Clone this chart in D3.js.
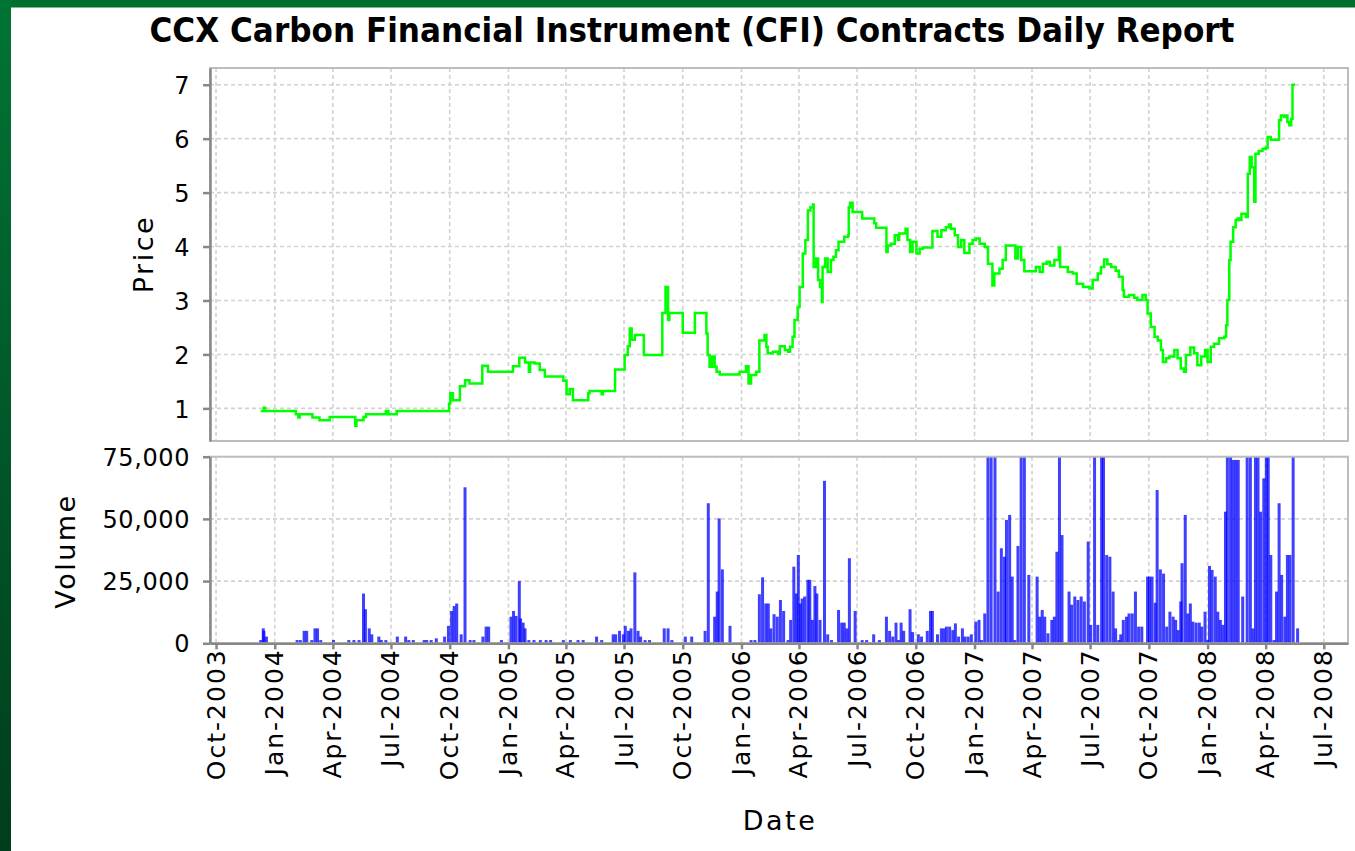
<!DOCTYPE html>
<html>
<head>
<meta charset="utf-8">
<script src="https://cdn.jsdelivr.net/npm/d3@7"></script>
<style>
  body { margin: 0; background: #fff; }
  svg text { font-family: "DejaVu Sans", sans-serif; fill: #000; }
</style>
</head>
<body>
<div id="chart"></div>
<script>
// price series (date the level starts, price)
const priceDates = [
  "2003-12-10","2003-12-15","2003-12-17","2004-02-03","2004-02-07","2004-02-09","2004-02-29","2004-03-11",
  "2004-03-27","2004-05-06","2004-05-08","2004-05-19","2004-05-23","2004-06-23","2004-06-27","2004-07-10",
  "2004-09-30","2004-10-02","2004-10-06","2004-10-17","2004-10-25","2004-11-01","2004-11-21","2004-11-30",
  "2005-01-08","2005-01-18","2005-01-27","2005-02-02","2005-02-04","2005-02-11","2005-02-19","2005-02-27",
  "2005-03-28","2005-04-02","2005-04-07","2005-04-12","2005-05-06","2005-05-08","2005-05-27","2005-05-29",
  "2005-06-17","2005-07-02","2005-07-07","2005-07-10","2005-07-13","2005-07-18","2005-08-01","2005-08-30",
  "2005-09-04","2005-09-08","2005-09-10","2005-10-01","2005-10-20","2005-11-07","2005-11-09","2005-11-12",
  "2005-11-16","2005-11-20","2005-11-23","2005-11-28","2005-12-29","2006-01-08","2006-01-12","2006-01-16",
  "2006-01-24","2006-01-29","2006-02-06","2006-02-09","2006-02-11","2006-02-19","2006-02-27","2006-03-02",
  "2006-03-10","2006-03-15","2006-03-18","2006-03-22","2006-03-25","2006-03-30","2006-04-02","2006-04-07",
  "2006-04-11","2006-04-15","2006-04-19","2006-04-23","2006-04-24","2006-04-28","2006-05-01","2006-05-04",
  "2006-05-07","2006-05-08","2006-05-12","2006-05-16","2006-05-21","2006-05-25","2006-05-29","2006-06-02",
  "2006-06-11","2006-06-17","2006-06-18","2006-06-20","2006-06-24","2006-07-09","2006-07-28","2006-07-31",
  "2006-08-16","2006-08-18","2006-08-23","2006-08-29","2006-09-03","2006-09-05","2006-09-15","2006-09-18",
  "2006-09-22","2006-09-26","2006-10-02","2006-10-07","2006-10-12","2006-10-27","2006-11-04","2006-11-10",
  "2006-11-17","2006-11-22","2006-11-25","2006-12-01","2006-12-06","2006-12-11","2006-12-16","2006-12-24",
  "2006-12-29","2007-01-03","2007-01-09","2007-01-17","2007-01-22","2007-01-29","2007-02-01","2007-02-09",
  "2007-02-14","2007-02-19","2007-03-06","2007-03-10","2007-03-15","2007-03-20","2007-04-07","2007-04-13",
  "2007-04-18","2007-04-24","2007-04-29","2007-05-06","2007-05-13","2007-05-15","2007-05-27","2007-06-04",
  "2007-06-10","2007-06-20","2007-06-30","2007-07-05","2007-07-13","2007-07-18","2007-07-23","2007-07-28",
  "2007-08-03","2007-08-10","2007-08-15","2007-08-21","2007-08-23","2007-08-31","2007-09-08","2007-09-13",
  "2007-09-21","2007-09-26","2007-09-29","2007-10-04","2007-10-10","2007-10-15","2007-10-20","2007-10-23",
  "2007-10-28","2007-11-02","2007-11-10","2007-11-15","2007-11-20","2007-11-25","2007-11-28","2007-12-05",
  "2007-12-11","2007-12-16","2007-12-22","2007-12-28","2008-01-01","2008-01-06","2008-01-11","2008-01-19",
  "2008-01-27","2008-01-30","2008-02-01","2008-02-04","2008-02-06","2008-02-10","2008-02-14","2008-02-17",
  "2008-02-19","2008-02-23","2008-03-01","2008-03-04","2008-03-07","2008-03-10","2008-03-14","2008-03-16",
  "2008-03-21","2008-03-27","2008-04-01","2008-04-04","2008-04-09","2008-04-22","2008-04-25","2008-04-30",
  "2008-05-03","2008-05-05","2008-05-08","2008-05-11","2008-05-13","2008-05-17"
];
const priceValues = [
  0.95,1.01,0.95,0.89,0.83,0.89,0.83,0.78,
  0.84,0.68,0.78,0.84,0.89,0.95,0.89,0.95,
  1.09,1.28,1.15,1.41,1.52,1.46,1.79,1.68,
  1.78,1.94,1.85,1.68,1.85,1.83,1.71,1.59,
  1.51,1.26,1.36,1.15,1.28,1.32,1.26,1.32,
  1.72,1.99,2.15,2.48,2.27,2.36,1.99,2.77,
  3.25,2.64,2.77,2.40,2.77,2.39,1.99,1.77,
  1.96,1.77,1.68,1.63,1.68,1.78,1.46,1.62,
  1.68,2.26,2.36,2.14,2.02,2.05,2.01,2.15,
  2.08,2.05,2.14,2.33,2.64,2.88,3.25,3.87,
  4.12,4.67,4.73,4.78,3.62,3.78,3.38,3.25,
  2.97,3.62,3.78,3.53,3.75,3.81,3.93,4.09,
  4.18,4.21,4.73,4.81,4.64,4.52,4.43,4.35,
  3.90,4.02,4.05,4.21,4.12,4.24,4.33,4.12,
  3.90,4.09,3.87,3.96,3.98,4.29,4.18,4.30,
  4.36,4.41,4.33,4.21,3.99,4.12,3.88,4.05,
  4.12,4.15,4.05,3.99,3.68,3.28,3.50,3.59,
  3.75,4.02,3.78,3.99,3.75,3.54,3.62,3.53,
  3.68,3.72,3.65,3.75,3.98,3.62,3.53,3.50,
  3.31,3.25,3.22,3.38,3.50,3.62,3.76,3.67,
  3.62,3.55,3.44,3.19,3.07,3.10,3.05,3.01,
  3.10,3.01,2.76,2.51,2.33,2.26,2.08,1.86,
  1.93,1.96,2.08,1.93,1.74,1.68,1.99,2.13,
  2.02,1.80,1.96,2.08,1.86,2.14,2.20,2.30,
  2.33,2.54,3.01,3.75,4.09,4.36,4.49,4.52,
  4.49,4.61,4.55,5.35,5.66,5.47,4.83,5.72,
  5.77,5.81,5.83,6.03,5.98,6.34,6.43,6.40,
  6.43,6.31,6.25,6.37,7.00,7.00
];

// daily volume (clipped bars above 75,000 estimated)
const volumeDates = [
  "2003-12-10","2003-12-14","2003-12-15","2003-12-19","2004-02-05","2004-02-10","2004-02-16","2004-02-20",
  "2004-02-28","2004-03-04","2004-03-08","2004-03-13","2004-04-02","2004-04-26","2004-05-04","2004-05-12",
  "2004-05-19","2004-05-22","2004-05-28","2004-06-01","2004-06-12","2004-06-16","2004-06-23","2004-07-11",
  "2004-07-24","2004-07-29","2004-08-05","2004-08-22","2004-08-26","2004-09-02","2004-09-10","2004-09-23",
  "2004-09-29","2004-10-04","2004-10-08","2004-10-12","2004-10-19","2004-10-25","2004-11-02","2004-11-08",
  "2004-11-22","2004-11-27","2004-12-01","2004-12-21","2005-01-05","2005-01-09","2005-01-13","2005-01-18",
  "2005-01-20","2005-01-24","2005-01-27","2005-02-02","2005-02-10","2005-02-20","2005-03-01","2005-03-08",
  "2005-03-28","2005-04-08","2005-04-20","2005-04-28","2005-05-19","2005-05-27","2005-06-14","2005-06-18",
  "2005-06-24","2005-06-30","2005-07-03","2005-07-08","2005-07-12","2005-07-18","2005-07-23","2005-07-27",
  "2005-08-03","2005-08-10","2005-09-02","2005-09-08","2005-09-14","2005-10-05","2005-10-15","2005-11-05",
  "2005-11-10","2005-11-20","2005-11-24","2005-11-27","2005-12-02","2005-12-14","2006-01-16","2006-01-22",
  "2006-01-29","2006-02-03","2006-02-08","2006-02-12","2006-02-16","2006-02-21","2006-02-26","2006-03-03",
  "2006-03-08","2006-03-15","2006-03-19","2006-03-24","2006-03-28","2006-03-31","2006-04-03","2006-04-06",
  "2006-04-10","2006-04-15","2006-04-18","2006-04-22","2006-04-26","2006-04-29","2006-05-04","2006-05-11",
  "2006-05-16","2006-05-22","2006-06-02","2006-06-07","2006-06-11","2006-06-15","2006-06-19","2006-06-28",
  "2006-07-09","2006-07-16","2006-07-27","2006-08-05","2006-08-16","2006-08-21","2006-08-26","2006-08-31",
  "2006-09-04","2006-09-08","2006-09-12","2006-09-22","2006-09-26","2006-10-05","2006-10-10","2006-10-19",
  "2006-10-24","2006-10-27","2006-11-04","2006-11-10","2006-11-14","2006-11-18","2006-11-23","2006-11-28",
  "2006-12-02","2006-12-07","2006-12-13","2006-12-17","2006-12-22","2006-12-27","2007-01-03","2007-01-08",
  "2007-01-12","2007-01-17","2007-01-22","2007-01-27","2007-02-02","2007-02-07","2007-02-12","2007-02-17",
  "2007-02-20","2007-02-25","2007-03-01","2007-03-05","2007-03-10","2007-03-15","2007-03-20","2007-03-27",
  "2007-04-09","2007-04-13","2007-04-17","2007-04-21","2007-04-26","2007-05-02","2007-05-06","2007-05-10",
  "2007-05-14","2007-05-18","2007-05-29","2007-06-02","2007-06-07","2007-06-12","2007-06-17","2007-06-22",
  "2007-06-28","2007-07-02","2007-07-08","2007-07-13","2007-07-19","2007-07-22","2007-07-27","2007-08-01",
  "2007-08-06","2007-08-10","2007-08-15","2007-08-18","2007-08-22","2007-08-27","2007-08-31","2007-09-05",
  "2007-09-10","2007-09-15","2007-09-20","2007-09-29","2007-10-02","2007-10-06","2007-10-11","2007-10-14",
  "2007-10-19","2007-10-24","2007-10-29","2007-11-03","2007-11-08","2007-11-12","2007-11-16","2007-11-20",
  "2007-11-22","2007-11-27","2007-12-01","2007-12-05","2007-12-09","2007-12-14","2007-12-19","2007-12-23",
  "2007-12-28","2008-01-01","2008-01-04","2008-01-08","2008-01-13","2008-01-17","2008-01-21","2008-01-25",
  "2008-01-29","2008-02-01","2008-02-06","2008-02-10","2008-02-14","2008-02-18","2008-02-25","2008-03-03",
  "2008-03-08","2008-03-12","2008-03-16","2008-03-20","2008-03-24","2008-03-29","2008-04-02","2008-04-05",
  "2008-04-09","2008-04-14","2008-04-18","2008-04-22","2008-04-26","2008-05-01","2008-05-05","2008-05-09",
  "2008-05-14","2008-05-21"
];
const volumeValues = [
  1300,6000,5000,2700,1300,1300,5000,5000,
  1300,6000,6000,1300,1300,1300,1300,1300,
  20000,13700,6000,3600,2700,1300,1300,2700,
  2700,1300,1300,1300,1300,1300,2000,2700,
  7000,13000,15000,16000,3600,62700,1300,1300,
  2700,6700,6700,1300,10700,13000,11000,25000,
  10000,8300,6000,1300,1300,1300,1300,1300,
  1300,1300,1300,1300,2700,1300,3600,3600,
  5000,3600,7000,5000,6000,28500,5000,2700,
  1300,1300,6000,6000,1300,2700,2700,5000,
  56300,10700,20800,50200,29700,7000,1300,1300,
  19700,26500,16000,16000,6000,11700,10700,17400,
  13000,1300,9400,30800,20000,35500,16000,18000,
  18800,25500,25500,9400,23000,20000,9400,65300,
  3600,1300,13400,8300,8300,6000,34200,13000,
  1300,1300,3600,1300,10700,5000,2700,8300,
  1300,8300,5000,13700,4500,3600,2700,5000,
  13000,13000,3600,6000,6000,6700,6700,5300,
  8000,2700,6000,2700,2700,3600,8700,9400,
  1300,12000,90000,90000,90000,20800,38200,34800,
  49600,51600,26800,1300,39100,90000,90000,27500,
  26800,10700,13400,10700,4000,9400,10700,36800,
  90000,43500,20800,15500,18800,17400,18800,16800,
  40900,7400,90000,7400,90000,90000,35500,34800,
  20800,6000,1300,3600,9400,10700,12000,12000,
  20800,6700,6700,26800,26800,26800,16300,61600,
  29700,28000,6700,12700,10700,9400,5300,16800,
  32200,51600,12000,16000,8700,8300,8300,6700,
  12700,1300,31100,29500,26800,12700,9400,7400,
  52900,90000,90000,73700,73700,73700,18800,90000,
  90000,6000,90000,90000,52900,66300,90000,90000,
  35500,1300,20800,56300,27500,10700,35500,35500,
  90000,6000
];

const priceTicks = [1, 2, 3, 4, 5, 6, 7];
const volumeTicks = [0, 25000, 50000, 75000];
const dateTicks = [
  "2003-10-01","2004-01-01","2004-04-01","2004-07-01","2004-10-01","2005-01-01","2005-04-01",
  "2005-07-01","2005-10-01","2006-01-01","2006-04-01","2006-07-01","2006-10-01","2007-01-01",
  "2007-04-01","2007-07-01","2007-10-01","2008-01-01","2008-04-01","2008-07-01"
];

const parse = d3.timeParse("%Y-%m-%d");
const priceData = priceDates.map((d, i) => ({ date: parse(d), value: priceValues[i] }));
const volumeData = volumeDates.map((d, i) => ({ date: parse(d), value: volumeValues[i] }));
const tickDates = dateTicks.map(parse);

let width = 1355, height = 851;
let plot = { left: 210, right: 1348 };
let pricePlot = { top: 68, bottom: 441 };
let volPlot = { top: 456.7, bottom: 643.3 };

let svg = d3.select('#chart')
  .append('svg')
  .attr('width', width)
  .attr('height', height);

// green frame of the page
let defs = svg.append('defs');
let grad = defs.append('linearGradient')
  .attr('id', 'frame').attr('x1', 0).attr('y1', 0).attr('x2', 0).attr('y2', 1);
grad.append('stop').attr('offset', '0%').attr('stop-color', '#007434');
grad.append('stop').attr('offset', '100%').attr('stop-color', '#003d1c');

svg.append('rect').attr('width', width).attr('height', height).attr('fill', '#fff');
svg.append('rect').attr('x', 0).attr('y', 0).attr('width', width).attr('height', 7.5).attr('fill', '#00702f');
svg.append('rect').attr('x', 0).attr('y', 0).attr('width', 11).attr('height', height).attr('fill', 'url(#frame)');

defs.append('clipPath').attr('id', 'clipPrice').append('rect')
  .attr('x', plot.left).attr('y', pricePlot.top)
  .attr('width', plot.right - plot.left).attr('height', pricePlot.bottom - pricePlot.top);
defs.append('clipPath').attr('id', 'clipVol').append('rect')
  .attr('x', plot.left).attr('y', volPlot.top)
  .attr('width', plot.right - plot.left).attr('height', volPlot.bottom - volPlot.top);

let xscale = d3.scaleTime()
  .domain([new Date(2003, 8, 21, 14), new Date(2008, 7, 7, 22)])
  .range([plot.left, plot.right]);

let yscale = d3.scaleLinear()
  .domain([0.395, 7.31])
  .range([pricePlot.bottom, pricePlot.top]);

let vscale = d3.scaleLinear()
  .domain([0, 75000])
  .range([volPlot.bottom, volPlot.top]);

// gridlines
const gridStyle = g => g.attr('stroke', '#d2d2d2').attr('stroke-width', 1.6).attr('stroke-dasharray', '4,3');

[[pricePlot, yscale, priceTicks], [volPlot, vscale, volumeTicks]].forEach(([p, sc, ticks]) => {
  svg.append('g').call(gridStyle)
    .selectAll('line').data(tickDates).join('line')
    .attr('x1', d => xscale(d)).attr('x2', d => xscale(d))
    .attr('y1', p.top).attr('y2', p.bottom);
  svg.append('g').call(gridStyle)
    .selectAll('line').data(ticks).join('line')
    .attr('x1', plot.left).attr('x2', plot.right)
    .attr('y1', d => sc(d)).attr('y2', d => sc(d));
});

// price line
const line = d3.line()
  .x(d => xscale(d.date))
  .y(d => yscale(d.value))
  .curve(d3.curveStepAfter);

svg.append('path')
  .datum(priceData)
  .attr('clip-path', 'url(#clipPrice)')
  .attr('fill', 'none')
  .attr('stroke', '#00ff00')
  .attr('stroke-width', 2.5)
  .attr('d', line);

// volume bars
svg.append('g')
  .attr('clip-path', 'url(#clipVol)')
  .selectAll('rect')
  .data(volumeData)
  .join('rect')
  .attr('x', d => xscale(d.date) - 1.5)
  .attr('width', 3)
  .attr('y', d => vscale(d.value))
  .attr('height', d => vscale(0) - vscale(d.value))
  .attr('fill', '#0000ff')
  .attr('fill-opacity', 0.75);

// plot outlines
[pricePlot, volPlot].forEach(p => {
  svg.append('rect')
    .attr('x', plot.left).attr('y', p.top)
    .attr('width', plot.right - plot.left).attr('height', p.bottom - p.top)
    .attr('fill', 'none').attr('stroke', '#bdbdbd').attr('stroke-width', 2);
});

// axes
function styleAxis(g) {
  g.select('.domain').attr('stroke', '#888').attr('stroke-width', 2.5);
  g.selectAll('.tick line').attr('stroke', '#888').attr('stroke-width', 2.5);
  g.selectAll('text').style('font-family', '"DejaVu Sans", sans-serif').attr('fill', '#000');
}

svg.append('g')
  .attr('transform', `translate(${plot.left},0)`)
  .call(d3.axisLeft(yscale).tickValues(priceTicks).tickFormat(d3.format('d')).tickSize(7).tickPadding(13).tickSizeOuter(0))
  .call(styleAxis)
  .selectAll('text').style('font-size', '24px').style('letter-spacing', '0.6px').attr('dy', '0.36em');

svg.append('g')
  .attr('transform', `translate(${plot.left},0)`)
  .call(d3.axisLeft(vscale).tickValues(volumeTicks).tickFormat(d3.format(',')).tickSize(7).tickPadding(13).tickSizeOuter(0))
  .call(styleAxis)
  .selectAll('text').style('font-size', '24px').style('letter-spacing', '0.6px').attr('dy', '0.36em');

let xaxis = svg.append('g')
  .attr('transform', `translate(0,${volPlot.bottom})`)
  .call(d3.axisBottom(xscale).tickValues(tickDates).tickFormat(d3.timeFormat('%b-%Y')).tickSize(6).tickSizeOuter(0))
  .call(styleAxis);

xaxis.selectAll('text')
  .attr('text-anchor', 'end')
  .attr('transform', 'translate(8, 5) rotate(-90)')
  .attr('x', 0).attr('y', 0).attr('dy', null)
  .style('font-size', '25px')
  .style('letter-spacing', '2px');

// titles
svg.append('text')
  .attr('x', 692)
  .attr('y', 42)
  .attr('text-anchor', 'middle')
  .attr('textLength', 1085)
  .attr('lengthAdjust', 'spacingAndGlyphs')
  .style('font-size', '33px')
  .style('font-weight', 'bold')
  .text('CCX Carbon Financial Instrument (CFI) Contracts Daily Report');

svg.append('text')
  .attr('transform', 'translate(153,254) rotate(-90)')
  .attr('text-anchor', 'middle')
  .style('font-size', '27px')
  .style('letter-spacing', '2.5px')
  .text('Price');

svg.append('text')
  .attr('transform', 'translate(75,551) rotate(-90)')
  .attr('text-anchor', 'middle')
  .style('font-size', '27px')
  .style('letter-spacing', '2.5px')
  .text('Volume');

svg.append('text')
  .attr('x', 780)
  .attr('y', 830)
  .attr('text-anchor', 'middle')
  .style('font-size', '27px')
  .style('letter-spacing', '2.5px')
  .text('Date');
</script>
</body>
</html>
